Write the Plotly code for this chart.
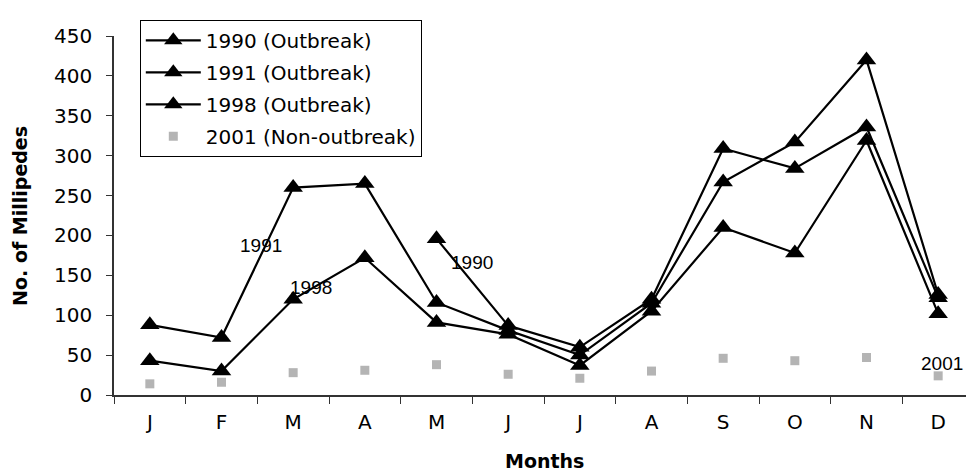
import plotly.graph_objects as go

months = ["J", "F", "M", "A", "M", "J", "J", "A", "S", "O", "N", "D"]
xpos = list(range(12))

y1990 = [None, None, None, None, 196, 87, 60, 120, 309, 284, 336, 122]
y1991 = [88, 72, 260, 265, 116, 81, 50, 115, 267, 317, 420, 126]
y1998 = [43, 30, 120, 172, 91, 76, 37, 105, 210, 178, 319, 102]
y2001 = [14, 16, 28, 31, 38, 26, 21, 30, 46, 43, 47, 24]

series_names = ["1990 (Outbreak)", "1991 (Outbreak)", "1998 (Outbreak)", "2001 (Non-outbreak)"]

label_text = ["1991", "1998", "1990", "2001"]
label_x = [1.55, 2.25, 4.5, 11.05]
label_y = [187, 135, 166, 40]

yticks = [0, 50, 100, 150, 200, 250, 300, 350, 400, 450]

fig = go.Figure()
for name, ys in zip(series_names[:3], [y1990, y1991, y1998]):
    fig.add_trace(go.Scatter(
        x=xpos, y=ys, name=name, mode="lines+markers", legendgroup=name,
        line=dict(color="black", width=2.2),
        marker=dict(symbol="triangle-up", size=17, color="black"),
        connectgaps=False,
    ))
fig.add_trace(go.Scatter(
    x=xpos, y=y2001, name=series_names[3], mode="markers", legendgroup=series_names[3],
    marker=dict(symbol="square", size=9, color="#b4b4b4"),
))

for t, xx, yy in zip(label_text, label_x, label_y):
    fig.add_annotation(x=xx, y=yy, text=t, showarrow=False,
                       font=dict(family="Liberation Sans", size=19, color="black"))

fig.add_annotation(xref="paper", yref="paper", x=-0.11, y=0.5, text="<b>No. of Millipedes</b>",
                   textangle=-90, showarrow=False, xanchor="center", yanchor="middle",
                   font=dict(family="DejaVu Sans", size=19, color="black"))
fig.add_annotation(xref="paper", yref="paper", x=0.5, y=-0.185, text="<b>Months</b>",
                   showarrow=False, xanchor="center", yanchor="middle",
                   font=dict(family="DejaVu Sans", size=19, color="black"))

fig.update_layout(
    width=966, height=465,
    margin=dict(l=106, r=0, t=28, b=78),
    paper_bgcolor="white", plot_bgcolor="white",
    font=dict(family="DejaVu Sans", color="black"),
    showlegend=True,
    legend=dict(x=0.03, y=1.045, xanchor="left", yanchor="top",
                bgcolor="white", bordercolor="black", borderwidth=1,
                font=dict(family="DejaVu Sans", size=20, color="black"),
                traceorder="grouped", tracegroupgap=3, itemwidth=55),
    xaxis=dict(range=[-0.5, 11.5], tickvals=xpos, ticktext=months, ticks="",
               showgrid=False, zeroline=False, showline=True, linecolor="#333",
               linewidth=1.5, tickfont=dict(size=20), ticklabelstandoff=8,
               minor=dict(tick0=0.5, dtick=1, ticks="outside", ticklen=7,
                          tickcolor="#333", showgrid=False)),
    yaxis=dict(range=[0, 450], tickvals=yticks, ticks="outside", ticklen=6,
               tickcolor="#333", showgrid=False, zeroline=False, showline=True,
               linecolor="#333", linewidth=1.5, tickfont=dict(size=20),
               ticklabelstandoff=10),
)

fig.write_html("out.html")
